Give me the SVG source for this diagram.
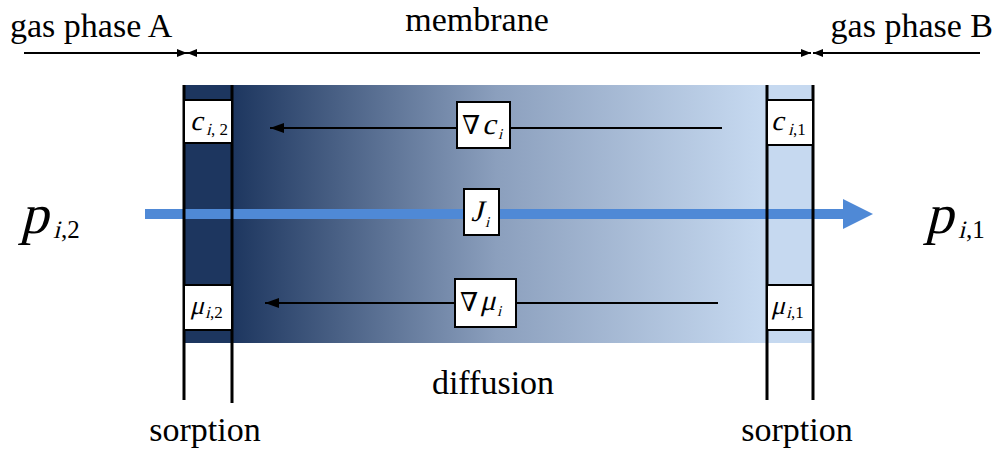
<svg xmlns="http://www.w3.org/2000/svg" width="1003" height="450" viewBox="0 0 1003 450" font-family="'Liberation Serif', 'DejaVu Serif', serif">
<defs>
<linearGradient id="mem" gradientUnits="userSpaceOnUse" x1="232" y1="0" x2="760" y2="0">
<stop offset="0" stop-color="#1d365f"/>
<stop offset="0.5" stop-color="#8b9fbd"/>
<stop offset="1" stop-color="#c6d9f0"/>
</linearGradient>
<marker id="ah" markerWidth="10" markerHeight="8" refX="10" refY="4" orient="auto-start-reverse" markerUnits="userSpaceOnUse">
<path d="M0,0 L10,4 L0,8 Z" fill="#000"/>
</marker>
<marker id="ah2" markerWidth="14" markerHeight="10" refX="14" refY="5" orient="auto-start-reverse" markerUnits="userSpaceOnUse">
<path d="M0,0 L14,5 L0,10 Z" fill="#000"/>
</marker>
</defs>
<style>
text{fill:#000}
.lbl{font-size:34px}
.box{fill:#fff;stroke:#000;stroke-width:2}
.ln{stroke:#000;stroke-width:2;fill:none}
.bl{stroke:#000;stroke-width:3;fill:none}
.sub{font-size:17px}
</style>
<rect id="membrane-body" x="184" y="85" width="629" height="258" fill="url(#mem)"/>
<rect x="184" y="85" width="48" height="258" fill="#1d365f"/>
<rect x="760" y="85" width="53" height="258" fill="#c6d9f0"/>
<g id="connectors">
<line class="ln" x1="24" y1="53" x2="187" y2="53" marker-end="url(#ah)"/>
<line class="ln" x1="187" y1="53" x2="811" y2="53" marker-start="url(#ah)" marker-end="url(#ah)"/>
<line class="ln" x1="980" y1="53" x2="813" y2="53" marker-end="url(#ah)"/>
<line class="ln" x1="722" y1="128" x2="270" y2="128" marker-end="url(#ah2)"/>
<line class="ln" x1="718" y1="303" x2="265" y2="303" marker-end="url(#ah2)"/>
<line x1="145" y1="214" x2="845" y2="214" stroke="#4f89d6" stroke-width="10"/>
<path d="M843,199 L873,214 L843,229 Z" fill="#4f89d6"/>
</g>
<g id="sorption-lines">
<line class="bl" x1="184" y1="85" x2="184" y2="400"/>
<line class="bl" x1="232" y1="85" x2="232" y2="403"/>
<line class="bl" x1="767" y1="85" x2="767" y2="400"/>
<line class="bl" x1="813" y1="85" x2="813" y2="400"/>
</g>
<g id="c-i2"><rect class="box" x="184" y="100" width="48" height="43"/>
<text transform="translate(190,130) skewX(-14)" font-size="28">c</text>
<text transform="translate(206,135) skewX(-14)" class="sub">i</text>
<text x="211" y="135" class="sub">, 2</text></g>
<g id="c-i1"><rect class="box" x="767" y="100" width="46" height="45"/>
<text transform="translate(771,130) skewX(-14)" font-size="28">c</text>
<text transform="translate(788,135) skewX(-14)" class="sub">i</text>
<text x="793" y="135" class="sub">,1</text></g>
<g id="mu-i2"><rect class="box" x="184" y="285" width="48" height="45"/>
<text transform="translate(190,314) skewX(-14)" font-size="26">μ</text>
<text transform="translate(205,318) skewX(-14)" class="sub">i</text>
<text x="210" y="318" class="sub">,2</text></g>
<g id="mu-i1"><rect class="box" x="767" y="285" width="46" height="45"/>
<text transform="translate(771,314) skewX(-14)" font-size="26">μ</text>
<text transform="translate(786,318) skewX(-14)" class="sub">i</text>
<text x="791" y="318" class="sub">,1</text></g>
<g id="grad-c"><rect class="box" x="457" y="102" width="53" height="46"/>
<text x="462" y="134" font-size="26">∇</text>
<text transform="translate(482,134) skewX(-14)" font-size="30">c</text>
<text transform="translate(498,139) skewX(-14)" font-size="15">i</text></g>
<g id="flux"><rect class="box" x="464" y="189" width="35" height="46"/>
<text transform="translate(471,221) skewX(-14)" font-size="30">J</text>
<text transform="translate(485,227) skewX(-14)" font-size="15">i</text></g>
<g id="grad-mu"><rect class="box" x="455" y="279" width="61" height="48"/>
<text x="460" y="311" font-size="26">∇</text>
<text transform="translate(480,310) skewX(-14)" font-size="29">μ</text>
<text transform="translate(497,316) skewX(-14)" font-size="15">i</text></g>
<g id="p-i2">
<text transform="translate(20,233) skewX(-14)" font-size="56">p</text>
<text transform="translate(53,238) skewX(-14)" font-size="25">i</text>
<text x="61" y="238" font-size="25">,2</text></g>
<g id="p-i1">
<text transform="translate(925,233) skewX(-14)" font-size="56">p</text>
<text transform="translate(958,238) skewX(-14)" font-size="25">i</text>
<text x="966" y="238" font-size="25">,1</text></g>
<text class="lbl" x="10" y="37">gas phase A</text>
<text class="lbl" x="477" y="31" text-anchor="middle">membrane</text>
<text class="lbl" x="993" y="37" text-anchor="end">gas phase B</text>
<text class="lbl" x="493" y="394" text-anchor="middle">diffusion</text>
<text class="lbl" x="205" y="441" text-anchor="middle">sorption</text>
<text class="lbl" x="797" y="441" text-anchor="middle">sorption</text>
</svg>
